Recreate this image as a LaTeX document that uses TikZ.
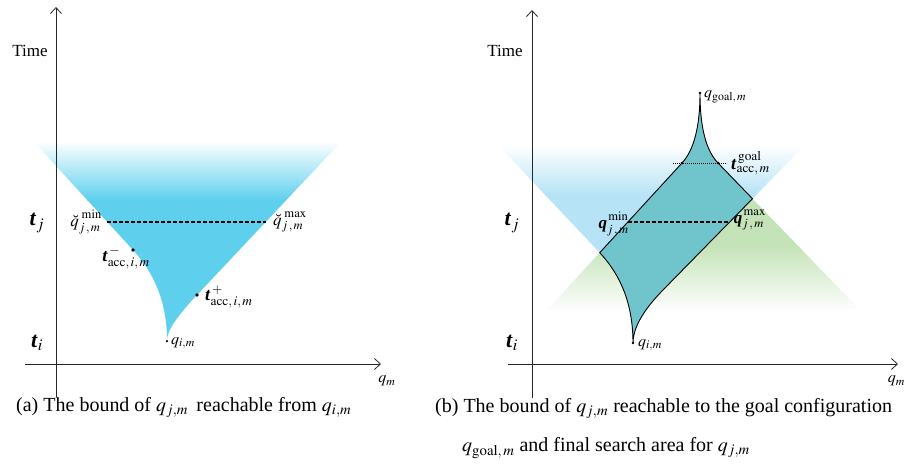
\documentclass[tikz,border=0pt]{standalone}
\usepackage{mathptmx}
\usepackage{fontspec}
\setmainfont{Liberation Serif}
\usetikzlibrary{arrows.meta}
\definecolor{cyanA}{RGB}{94,208,238}
\definecolor{blueB}{RGB}{182,227,245}
\definecolor{greenB}{RGB}{196,227,184}
\definecolor{tealB}{RGB}{112,197,204}
\newcommand{\tb}{\textbf{\textit{t}}}
\newcommand{\qb}{\textbf{\textit{q}}}
\newcommand{\upsc}[1]{\raisebox{2pt}{$\scriptstyle\mathrm{#1}$}}
\begin{document}
\begin{tikzpicture}[x=1pt,y=-1pt,
  axisline/.style={line width=0.8pt, draw=black!85, -{Straight Barb[length=6pt,width=11pt,line width=0.8pt]}},
  dashline/.style={line width=1.1pt, dash pattern=on 4pt off 2pt},
  dotline/.style={line width=1pt, dash pattern=on 1.2pt off 0.8pt},
  quadline/.style={line width=0.9pt, draw=black},
  lbl/.style={inner sep=1pt, font=\fontsize{16}{18}\selectfont},
  mmlbl/.style={inner sep=1pt, font=\fontsize{17}{19}\selectfont},
  tlbl/.style={inner sep=1pt, font=\fontsize{22}{24}\selectfont},
  acclbl/.style={inner sep=1pt, font=\fontsize{18}{20}\selectfont},
  captxt/.style={inner sep=0pt, font=\fontsize{20}{22}\selectfont},
  timelbl/.style={inner sep=0pt, font=\fontsize{17}{19}\selectfont},
  dotnode/.style={circle, fill=black, inner sep=0pt, minimum size=3.6pt}]
\useasboundingbox (0,0) rectangle (906,464);

% ---------------- panel (a) ----------------
\begin{scope}
  \clip (35,143) -- (133,250) .. controls (155.7,274.7) and (167,304.7) .. (167,340)
        .. controls (167,331) and (177,316) .. (197,295) -- (340,143) -- cycle;
  \shade[top color=white, bottom color=cyanA] (0,141) rectangle (906,200);
  \fill[cyanA] (0,199.5) rectangle (906,350);
\end{scope}

\node[timelbl] (timeA) at (30,51) {Time};
\node[tlbl] (tjA) at (37,223) {\tb$_j$};
\node[tlbl] (tiA) at (37,343) {\tb$_i$};

\coordinate (axAbot) at (56,397);
\coordinate (axAtop) at (56,7);
\coordinate (axAleft) at (25,364);
\coordinate (axAright) at (381,364);
\draw[axisline] (axAbot) -- (axAtop);
\draw[axisline] (axAleft) -- (axAright);
\node[lbl] (qmA) at (387,381) {$q_m$};

\coordinate (minA) at (107,222);
\coordinate (maxA) at (266,222);
\draw[dashline] (minA) -- (maxA);
\node[mmlbl, anchor=east] (qminA) at ([xshift=-4pt]minA) {$\breve{q}^{\;\upsc{min}}_{j\,,\,m}$};
\node[mmlbl, anchor=west] (qmaxA) at ([xshift=6pt]maxA) {$\breve{q}^{\;\upsc{max}}_{j\,,\,m}$};

\node[dotnode] (accmA) at (133,250) {};
\node[dotnode] (accpA) at (197,295) {};
\node[dotnode, minimum size=2.5pt] (qiA) at (167,341) {};
\node[acclbl] (taccmA) at (126,258) {\tb$^{\,-}_{\mathrm{acc},\,i,\,m}$};
\node[acclbl, anchor=west] (taccpA) at (204,297) {\tb$^{\,+}_{\mathrm{acc},\,i,\,m}$};
\node[lbl, anchor=west] (qilA) at (170,343) {$q_{i,m}$};

\node[captxt, anchor=west] (capA) at (16,407) {(a) The bound of $q_{j,m}$\, reachable from $q_{i,m}$};

% ---------------- panel (b) ----------------
\begin{scope}
  \clip (500,147) -- (600,253) .. controls (622,276.3) and (633,306.3) .. (633,343)
        .. controls (633,328.1) and (643,310.4) .. (663,290) -- (803,147) -- cycle;
  \shade[top color=white, bottom color=blueB] (450,145) rectangle (906,195);
  \fill[blueB] (450,194.5) rectangle (906,350);
\end{scope}
\begin{scope}
  \clip (700,93) .. controls (700,126.6) and (694,149.9) .. (682,163) -- (547,310)
        -- (860,310) -- (718,163) .. controls (706,150.6) and (700,127.3) .. (700,93) -- cycle;
  \fill[greenB] (450,80) rectangle (906,245.5);
  \shade[top color=greenB, bottom color=white] (450,245) rectangle (906,312);
\end{scope}
\fill[tealB] (633,343) .. controls (633,306.3) and (622,276.3) .. (599.7,252.7)
  -- (682,163) .. controls (694,149.9) and (700,126.6) .. (700,93)
  .. controls (700,127.3) and (706,150.6) .. (718,163) -- (752.5,198.7)
  -- (663,290) .. controls (643,310.4) and (633,328.1) .. (633,343) -- cycle;
\draw[quadline] (633,343) .. controls (633,306.3) and (622,276.3) .. (599.7,252.7)
  -- (682,163) .. controls (694,149.9) and (700,126.6) .. (700,93)
  .. controls (700,127.3) and (706,150.6) .. (718,163) -- (752.5,198.7)
  -- (663,290) .. controls (643,310.4) and (633,328.1) .. (633,343) -- cycle;

\node[timelbl] (timeB) at (505,51) {Time};
\node[tlbl] (tjB) at (512,223) {\tb$_j$};
\node[tlbl] (tiB) at (512,343) {\tb$_i$};

\coordinate (axBbot) at (532,398);
\coordinate (axBtop) at (532,10);
\coordinate (axBleft) at (508,364);
\coordinate (axBright) at (898,364);
\draw[axisline] (axBbot) -- (axBtop);
\draw[axisline] (axBleft) -- (axBright);
\node[lbl, anchor=east] (qmB) at (906,381) {$q_m$};

\coordinate (minB) at (627.8,222);
\coordinate (maxB) at (729.6,222);
\draw[dashline] (minB) -- (maxB);
\node[mmlbl, anchor=east] (qminB) at ([xshift=2pt,yshift=-2pt]minB) {\qb$^{\,\upsc{min}}_{j\,,\,m}$};
\node[mmlbl, anchor=west] (qmaxB) at ([xshift=3pt,yshift=2pt]maxB) {\qb$^{\,\upsc{max}}_{j\,,\,m}$};

\coordinate (gl) at (673,163);
\coordinate (gr) at (727,163);
\draw[dotline] (gl) -- (gr);
\node[dotnode, minimum size=3pt] (accgl) at (682,163) {};
\node[dotnode, minimum size=3pt] (accgr) at (718,163) {};
\node[acclbl, anchor=west] (taccg) at (730,163) {\tb$^{\,\mathrm{goal}}_{\mathrm{acc},\,m}$};

\node[dotnode, minimum size=2.8pt] (goal) at (700,93) {};
\node[lbl, anchor=west] (goall) at (703,97) {$q_{\mathrm{goal},\,m}$};
\node[dotnode, minimum size=2.8pt] (qiB) at (633,343) {};
\node[lbl, anchor=west] (qilB) at (637,345) {$q_{i,m}$};

\node[captxt, anchor=west] (capB1) at (435,408) {(b) The bound of $q_{j,m}$ reachable to the goal configuration};
\node[captxt, anchor=west] (capB2) at (462,448) {$q_{\mathrm{goal},\,m}$ and final search area for $q_{j,m}$};
\end{tikzpicture}
\end{document}
